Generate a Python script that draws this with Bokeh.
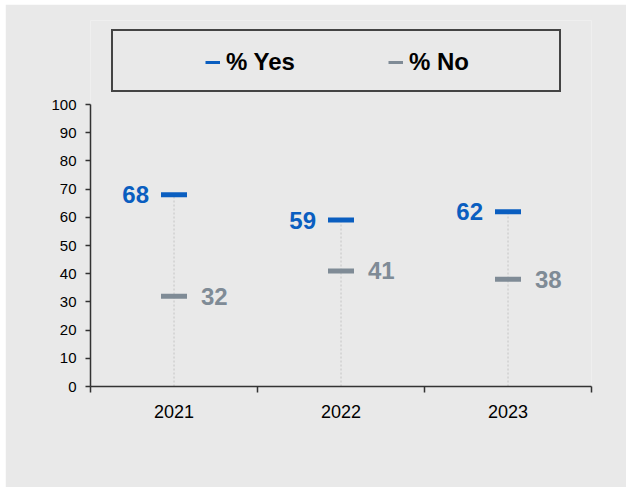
from bokeh.plotting import figure
from bokeh.models import FixedTicker, Legend, LegendItem, Range1d
from bokeh.embed import file_html
from bokeh.resources import INLINE
from bokeh.core.properties import value

# ---- data ----
years = ["2021", "2022", "2023"]
pct_yes = [68, 59, 62]
pct_no = [32, 41, 38]
y_ticks = [0, 10, 20, 30, 40, 50, 60, 70, 80, 90, 100]

BLUE = "#0A5EC0"
GRAY = "#7F8B96"
BG = "#e9e9e9"
FONT = "Liberation Sans"

xs = [i + 0.5 for i in range(len(years))]
tops = [max(a, b) for a, b in zip(pct_yes, pct_no)]
bases = [0 for _ in years]

# frame extends above the 0-100 axis so the legend box fits inside it
FRAME_H = 366
AXIS_H = 282
y_end = 100 * FRAME_H / AXIS_H

p = figure(width=621, height=483, output_backend="svg", toolbar_location=None,
           x_range=Range1d(0, len(years)), y_range=Range1d(0, y_end),
           min_border_left=85, min_border_right=35, min_border_top=16, min_border_bottom=101)
p.margin = (4, 1, 1, 5)
p.background_fill_color = BG
p.border_fill_color = BG
p.outline_line_color = None
p.xgrid.visible = False
p.ygrid.visible = False

# drop lines
p.segment(x0=xs, y0=bases, x1=xs, y1=tops, line_color="#c4c4c4", line_width=1, line_dash="2 2")

# dashes
p.rect(x=xs, y=pct_yes, width=26, height=5, width_units="screen", height_units="screen",
       fill_color=BLUE, line_color=None)
p.rect(x=xs, y=pct_no, width=26, height=5, width_units="screen", height_units="screen",
       fill_color=GRAY, line_color=None)

# value labels
p.text(x=xs, y=pct_yes, text=[str(v) for v in pct_yes], x_offset=-25,
       text_align="right", text_baseline="middle", text_color=BLUE,
       text_font=value(FONT), text_font_style="bold", text_font_size="24px")
p.text(x=xs, y=pct_no, text=[str(v) for v in pct_no], x_offset=27,
       text_align="left", text_baseline="middle", text_color=GRAY,
       text_font=value(FONT), text_font_style="bold", text_font_size="24px")

# axes
xa = p.xaxis[0]
xa.ticker = FixedTicker(ticks=xs, minor_ticks=[0, 1, 2, 3])
xa.major_label_overrides = {x: y for x, y in zip(xs, years)}
xa.major_tick_line_color = None
xa.major_tick_out = 0
xa.major_tick_in = 0
xa.minor_tick_line_color = "#333333"
xa.minor_tick_line_width = 1.5
xa.minor_tick_out = 6
xa.minor_tick_in = 0
xa.axis_line_color = "#333333"
xa.axis_line_width = 1.5
xa.major_label_standoff = 12
xa.major_label_text_font = FONT
xa.major_label_text_font_size = "18px"
xa.major_label_text_color = "#000000"

ya = p.yaxis[0]
ya.ticker = FixedTicker(ticks=y_ticks)
ya.bounds = (0, 100)
ya.minor_tick_line_color = None
ya.major_tick_out = 5
ya.major_tick_in = 0
ya.major_tick_line_color = "#333333"
ya.major_tick_line_width = 1.5
ya.axis_line_color = "#333333"
ya.axis_line_width = 1.5
ya.major_label_standoff = 9
ya.major_label_text_font = FONT
ya.major_label_text_font_size = "15px"
ya.major_label_text_color = "#000000"

# legend box (border only)
dummy = p.line(x=[xs[0]], y=[pct_yes[0]], line_alpha=0)
box = Legend(items=[LegendItem(label=" ", renderers=[dummy])],
             location=(21, 294), orientation="horizontal",
             padding=0, margin=0, spacing=0, label_standoff=0,
             glyph_width=0, glyph_height=59, label_width=446, label_height=59,
             border_line_color="#444444", border_line_width=2, border_line_alpha=1,
             background_fill_alpha=0, label_text_font_size="1px")
p.add_layout(box, "center")

# legend items (single-point lines: nothing drawn in the plot, only the legend key)
ly = p.line(x=[xs[0]], y=[pct_yes[0]], line_color=BLUE, line_width=3)
ln = p.line(x=[xs[0]], y=[pct_no[0]], line_color=GRAY, line_width=3)
leg = Legend(items=[LegendItem(label="% Yes", renderers=[ly]),
                    LegendItem(label="% No", renderers=[ln])],
             location=(115, 309), orientation="horizontal",
             padding=0, margin=0, spacing=93, label_standoff=6,
             glyph_width=15, glyph_height=30, label_height=30, label_width=20,
             border_line_color=None, background_fill_alpha=0,
             label_text_font=FONT, label_text_font_style="bold",
             label_text_font_size="24px", label_text_color="#000000")
p.add_layout(leg, "center")

open("out.html", "w").write(file_html(p, INLINE))
